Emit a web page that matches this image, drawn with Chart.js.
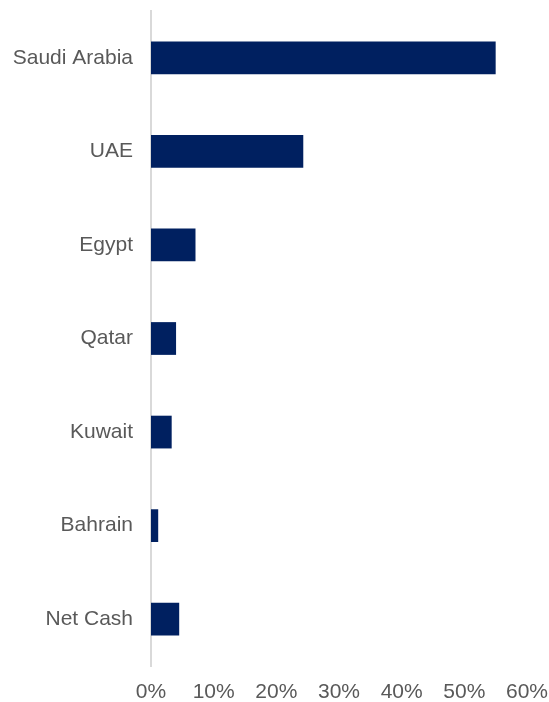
<html>
<head>
    <title>Exposure by country</title>
    <meta charset="utf-8"/>
    <script src="https://cdn.jsdelivr.net/npm/chart.js@4"></script>
    <style>
        html, body { margin: 0; padding: 0; background: #ffffff; }
        .chart-container { position: relative; width: 549px; height: 702px; }
    </style>
</head>

<body>
    <div class="chart-container">
        <canvas id="countryChart"></canvas>
    </div>
    <script>
        // categories and values (percent)
        const countries = ['Saudi Arabia', 'UAE', 'Egypt', 'Qatar', 'Kuwait', 'Bahrain', 'Net Cash'];
        const shares = [55.0, 24.3, 7.1, 4.0, 3.3, 1.15, 4.5];
        const xTicks = [0, 10, 20, 30, 40, 50, 60];

        const labelColor = '#595959';
        const labelFont = { family: 'Liberation Sans, Arial, sans-serif', size: 21 };

        const dataCountry = {
            labels: countries,
            datasets: [{
                label: 'Share',
                backgroundColor: '#002060',
                borderColor: '#002060',
                data: shares,
                barPercentage: 0.35,
                categoryPercentage: 1.0,
            }]
        };

        const configCountry = {
            type: 'bar',
            data: dataCountry,
            options: {
                indexAxis: 'y',
                responsive: true,
                maintainAspectRatio: false,
                animation: false,
                layout: {
                    padding: { top: 11, right: 22, bottom: 0, left: 0 }
                },
                plugins: {
                    legend: { display: false },
                    tooltip: { enabled: false }
                },
                scales: {
                    x: {
                        min: 0,
                        max: 60,
                        afterBuildTicks: function (scale) {
                            scale.ticks = xTicks.map(v => ({ value: v }));
                        },
                        afterFit: function (scale) {
                            // fixed axis band, no auto padding for the end labels
                            scale.height = 36;
                            scale.paddingLeft = 0;
                            scale.paddingRight = 0;
                        },
                        grid: { display: false },
                        border: { display: false },
                        ticks: {
                            color: labelColor,
                            font: labelFont,
                            padding: 6,
                            callback: v => v + '%'
                        }
                    },
                    y: {
                        afterFit: function (scale) {
                            scale.width = 151;
                            scale.paddingTop = 0;
                            scale.paddingBottom = 0;
                        },
                        grid: { display: false },
                        border: { display: true, color: '#d9d9d9', width: 2 },
                        ticks: {
                            color: labelColor,
                            font: labelFont,
                            padding: 10
                        }
                    }
                }
            }
        };

        const countryChart = new Chart(
            document.getElementById('countryChart'),
            configCountry
        );
    </script>
</body>
</html>
